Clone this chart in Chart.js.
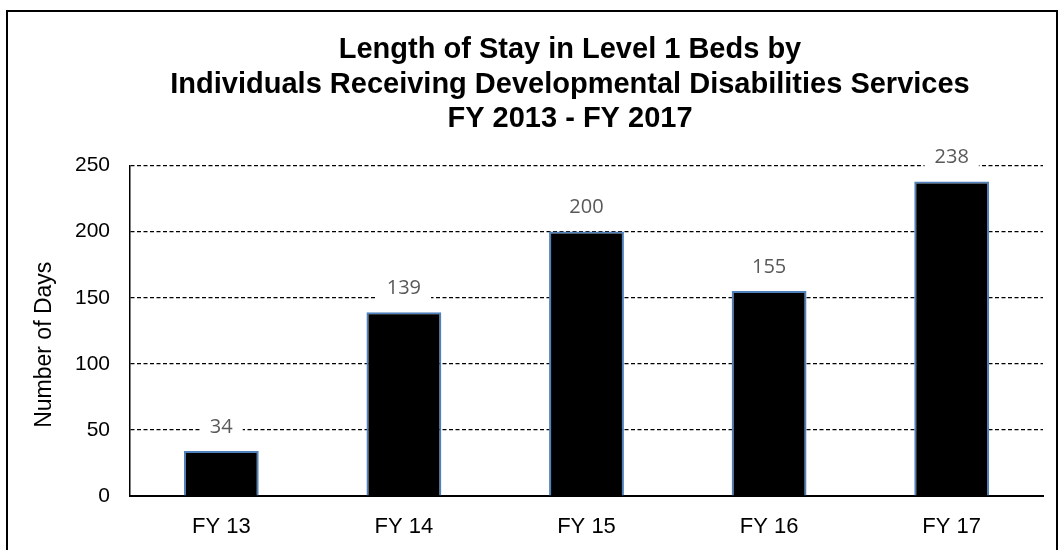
<!DOCTYPE html>
<html><head><meta charset="utf-8">
<script src="https://cdn.jsdelivr.net/npm/chart.js@4.4.1/dist/chart.umd.min.js"></script>
<style>html,body{margin:0;padding:0;background:#fff;} canvas{display:block;}</style>
</head><body>
<canvas id="c" width="1060" height="550"></canvas>
<script>
const categories = ['FY 13', 'FY 14', 'FY 15', 'FY 16', 'FY 17'];
const lengthOfStayDays = [34, 139, 200, 155, 238];
const titleLines = ['Length of Stay in Level 1 Beds by', 'Individuals Receiving Developmental Disabilities Services', 'FY 2013 - FY 2017'];
const yAxisTitle = 'Number of Days';
const yTickMin = 0, yTickMax = 250, yTickStep = 50;

const FONT = '"Liberation Sans", Arial, sans-serif';

const framePlugin = {
  id: 'frame',
  afterLayout(chart) {
    if (chart.titleBlock) {
      chart.titleBlock.left = 97;
      chart.titleBlock.right = chart.chartArea.right;
    }
  },
  beforeDraw(chart) {
    const ctx = chart.ctx;
    ctx.save();
    ctx.fillStyle = '#fff';
    ctx.fillRect(0, 0, chart.width, chart.height);
    ctx.strokeStyle = '#000';
    ctx.lineWidth = 2;
    ctx.strokeRect(7, 11, 1050, 600);
    ctx.restore();
  }
};

const axisTitlePlugin = {
  id: 'axisTitle',
  afterDraw(chart) {
    const ctx = chart.ctx, a = chart.chartArea;
    ctx.save();
    ctx.translate(45, (a.top + a.bottom) / 2 + 14);
    ctx.rotate(-Math.PI / 2);
    ctx.font = '23px ' + FONT;
    ctx.fillStyle = '#000';
    ctx.textAlign = 'center';
    ctx.textBaseline = 'middle';
    ctx.fillText(yAxisTitle, 0, 0);
    ctx.restore();
  }
};

const dataLabelPlugin = {
  id: 'dataLabels',
  afterDatasetsDraw(chart) {
    const ctx = chart.ctx;
    const meta = chart.getDatasetMeta(0);
    ctx.save();
    ctx.font = '20px "Open Sans", sans-serif';
    ctx.textAlign = 'center';
    ctx.textBaseline = 'middle';
    meta.data.forEach((el, i) => {
      const txt = String(lengthOfStayDays[i]);
      const w = ctx.measureText(txt).width;
      const x = el.x, y = el.y - 25;
      ctx.fillStyle = '#fff';
      ctx.fillRect(x - w / 2 - 10, y - 13, w + 20, 26);
      ctx.fillStyle = '#595959';
      ctx.fillText(txt, x, y + 1);
    });
    ctx.restore();
  }
};

new Chart(document.getElementById('c'), {
  type: 'bar',
  data: {
    labels: categories,
    datasets: [{
      data: lengthOfStayDays,
      backgroundColor: '#000',
      borderColor: '#4F81BD',
      borderWidth: 2,
      borderSkipped: 'start',
      barPercentage: 0.41,
      categoryPercentage: 1
    }]
  },
  options: {
    responsive: false,
    animation: false,
    devicePixelRatio: 1,
    layout: { padding: { left: 0, right: 17, top: 10, bottom: 0 } },
    plugins: {
      legend: { display: false },
      tooltip: { enabled: false },
      title: {
        display: true,
        text: titleLines,
        color: '#000',
        font: { family: FONT, size: 29, weight: 'bold', lineHeight: 1.19 },
        padding: { top: 23, bottom: 29 }
      }
    },
    scales: {
      x: {
        grid: { display: false },
        border: { display: true, color: '#000', width: 2 },
        ticks: { color: '#000', font: { family: FONT, size: 22 }, padding: 10 },
        afterFit(scale) { scale.height = 54; }
      },
      y: {
        min: yTickMin,
        max: yTickMax,
        grid: { color: '#000', lineWidth: 1.2, drawTicks: false },
        border: { display: true, color: '#000', width: 1.5, dash: [4, 2.5] },
        ticks: { stepSize: yTickStep, color: '#000', font: { family: FONT, size: 21 }, padding: 20 },
        afterFit(scale) { scale.width = 130; }
      }
    }
  },
  plugins: [framePlugin, axisTitlePlugin, dataLabelPlugin]
});
</script>
</body></html>
